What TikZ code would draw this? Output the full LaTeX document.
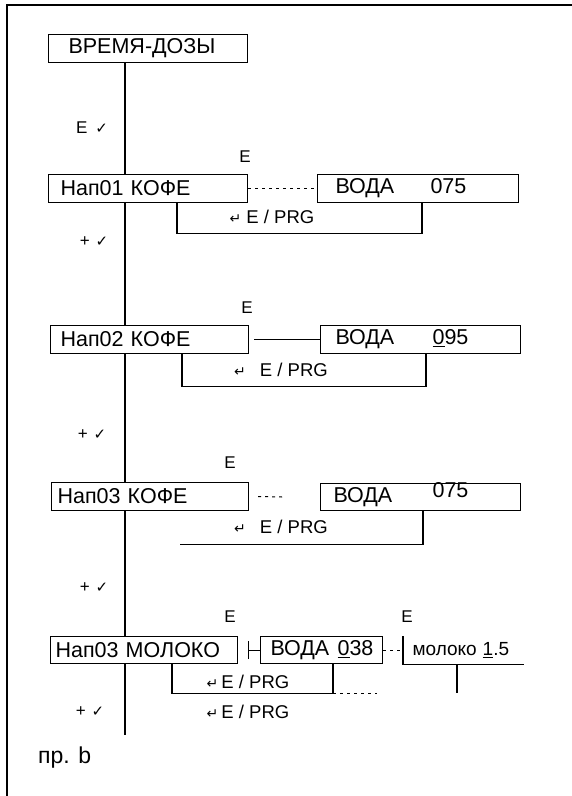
\documentclass[tikz,border=0pt]{standalone}
\usepackage{fontspec}
\setmainfont{Liberation Sans}
\newfontfamily\symf{DejaVu Sans}
\newcommand{\tk}{{\symf\fontsize{15}{15}\selectfont ✓}}
\newcommand{\rk}{{\symf\fontsize{14}{14}\selectfont ↵}}
\begin{document}
\begin{tikzpicture}[x=1pt,y=-1pt,
  box/.style={draw, line width=1.1pt, anchor=north west, inner ysep=0pt, minimum height=28pt, align=left, font=\fontsize{21.5}{21.5}\selectfont},
  lbl/.style={font=\fontsize{17}{17}\selectfont, inner sep=0pt},
  prg/.style={font=\fontsize{18.5}{18.5}\selectfont, inner sep=0pt},
  con/.style={line width=1.1pt},
  faint/.style={line width=1pt, dash pattern=on 3pt off 4pt},
]
\useasboundingbox (0,0) rectangle (572,796);
% frame
\draw[line width=2pt] (572,5) -- (7,5) -- (7,796);

% boxes
\node[box, inner xsep=20pt, text width=159pt] (b0) at (48,34) {ВРЕМЯ-ДОЗЫ};
\node[box, inner xsep=12pt, text width=175pt] (b1) at (48,174) {Нап01 КОФЕ};
\node[box, inner xsep=18pt, text width=165pt] (w1) at (317,174) {\makebox[95pt][l]{ВОДА}075};
\node[box, inner xsep=10pt, text width=178pt] (b2) at (50,325) {Нап02 КОФЕ};
\node[box, inner xsep=15pt, text width=170pt] (w2) at (320,325) {\makebox[97pt][l]{ВОДА}\underline{0}95};
\node[box, inner xsep=6pt, text width=185pt] (b3) at (51,482) {Нап03 КОФЕ};
\node[box, inner xsep=13pt, text width=174pt, minimum height=27pt] (w3) at (320,483) {\makebox[99pt][l]{ВОДА}\smash{\raisebox{5pt}{075}}};
\node[box, inner xsep=5pt, text width=177pt, minimum height=27pt] (b4) at (50,636) {Нап03 МОЛОКО};
\node[box, inner xsep=10pt, text width=102pt, minimum height=27pt] (w4) at (260,636) {\makebox[67pt][l]{ВОДА}\underline{0}38};
\node[box, draw=none, inner xsep=9pt, text width=102pt, minimum height=27pt, font=\fontsize{19}{19}\selectfont] (m4) at (403,636) {молоко\hspace{6pt}\underline{1}.5};
\draw[con] (m4.north west) -- (m4.south west) -- (m4.south east);

% main vertical line
\coordinate (mx) at (125,0);
\coordinate (mend) at (125,735);
\draw[con] (b0.south -| mx) -- (b1.north -| mx);
\draw[con] (b1.south -| mx) -- (b2.north -| mx);
\draw[con] (b2.south -| mx) -- (b3.north -| mx);
\draw[con] (b3.south -| mx) -- (b4.north -| mx);
\draw[con] (b4.south -| mx) -- (mend);

% side connectors
\draw[faint] (b1.east) -- (w1.west);
\draw[con] ([xshift=5pt]b2.east) -- (w2.west);
\draw[faint] ([xshift=9pt]b3.east) -- ([xshift=-35pt]w3.west);
\draw[con] ([xshift=10pt]b4.east) -- (w4.west);
\draw[con] ([xshift=10pt,yshift=-9pt]b4.east) -- ([xshift=10pt,yshift=9pt]b4.east);
\draw[faint] (w4.east) -- (m4.west);
\draw[con] ([xshift=54pt]m4.south west) -- ++(0,29);

% return loops
\draw[con] ([xshift=105pt]w1.south west) -- ++(0,30) -| ([xshift=129pt]b1.south west);
\draw[con] ([xshift=106pt]w2.south west) -- ++(0,32) -| ([xshift=132pt]b2.south west);
\draw[con] ([xshift=103pt]w3.south west) -- ++(0,33) -- ++(-243,0) coordinate (l3end);
\draw[con] ([xshift=73pt]w4.south west) -- ++(0,29) -| ([xshift=122pt]b4.south west);
\draw[faint] ([xshift=73pt,yshift=-29pt]w4.south west) -- ++(44,0);

% labels
\node[lbl] (ev0) at (92,128) {E\hspace{8pt}\tk};
\node[lbl] (e1) at (245,157) {E};
\node[lbl] (e2) at (247,308) {E};
\node[lbl] (e3) at (230,463) {E};
\node[lbl] (e4) at (230,617) {E};
\node[lbl] (e5) at (407,617) {E};
\node[lbl] (p1) at (94,242) {+\hspace{6pt}\tk};
\node[lbl] (p2) at (92,435) {+\hspace{6pt}\tk};
\node[lbl] (p3) at (94,588) {+\hspace{6pt}\tk};
\node[lbl] (p4) at (90,712) {+\hspace{6pt}\tk};
\node[prg] (r1) at (272,217) {\rk\hspace{5pt}E / PRG};
\node[prg] (r2) at (281,370) {\rk\hspace{14pt}E / PRG};
\node[prg] (r3) at (281,527) {\rk\hspace{14pt}E / PRG};
\node[prg] (r4) at (248,682) {\rk\hspace{3pt}E / PRG};
\node[prg] (r5) at (248,712) {\rk\hspace{3pt}E / PRG};
\node[anchor=west, inner sep=0pt, font=\fontsize{23}{23}\selectfont] (cap) at (38,758) {пр. b};
\end{tikzpicture}
\end{document}
